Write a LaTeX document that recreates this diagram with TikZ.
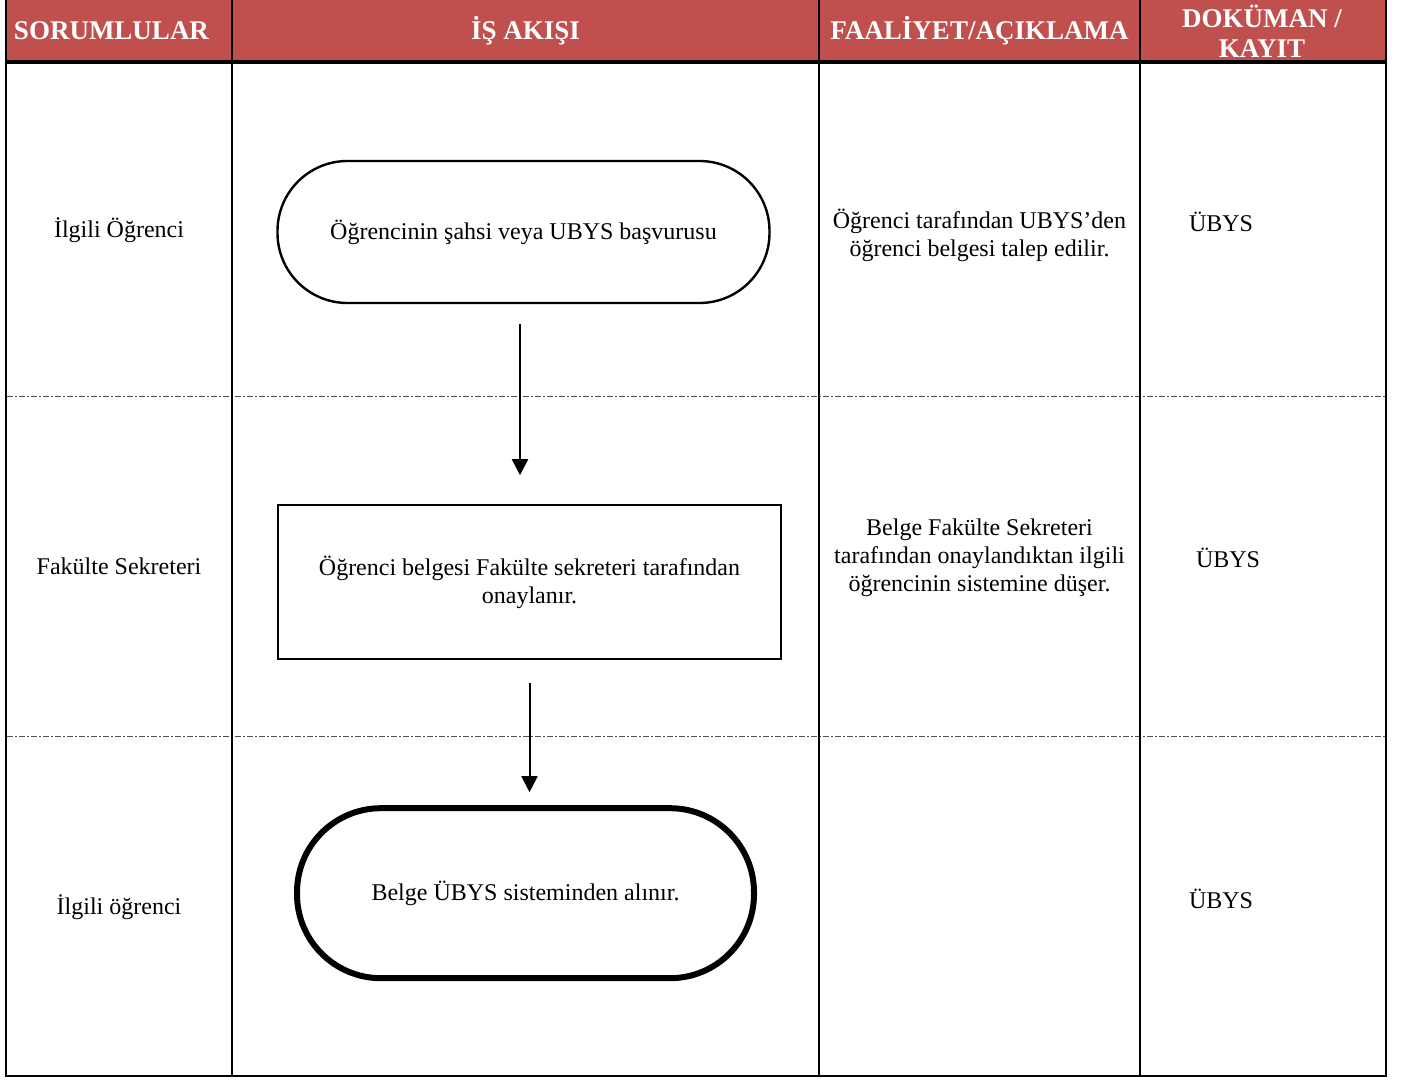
\documentclass[tikz,border=0pt]{standalone}
\usepackage{fontspec}
\setmainfont{Liberation Serif}
\usepackage{tikz}
\usetikzlibrary{arrows.meta, positioning}
\definecolor{headerred}{RGB}{192, 80, 77}
\definecolor{gridgray}{RGB}{80, 80, 80}
\tikzset{
    header/.style={
        text=white,
        font=\fontsize{13.5}{15}\selectfont\bfseries,
        align=center
    },
    cell/.style={
        font=\fontsize{12}{14}\selectfont,
        align=center
    },
    terminal/.style={
        rectangle,
        rounded corners=35pt,
        minimum width=246pt,
        minimum height=71pt,
        draw=black,
        line width=1.2pt,
        cell
    },
    process/.style={
        rectangle,
        minimum width=251.5pt,
        minimum height=77pt,
        draw=black,
        line width=1pt,
        cell
    },
    arrow/.style={
        line width=1pt,
        -{Triangle[width=8pt,length=8pt]}
    },
    rowline/.style={
        gridgray,
        line width=0.5pt,
        dash pattern=on 3pt off 1pt on 1pt off 1pt
    }
}

\begin{document}
\begin{tikzpicture}[x=0.5pt, y=-0.5pt]
        \useasboundingbox (0,0) rectangle (1404,1080);

        % --- TABLO ---
        \fill [headerred] (6,0) rectangle (1386,62);
        \draw [rowline] (7,397) -- (1385,397);
        \draw [rowline] (7,736) -- (1385,736);
        \draw [line width=1pt] (6,0) -- (6,1076) -- (1386,1076) -- (1386,0);
        \draw [line width=1pt] (232,0) -- (232,1076);
        \draw [line width=1pt] (819,0) -- (819,1076);
        \draw [line width=1pt] (1140,0) -- (1140,1076);
        \draw [line width=2pt] (6,62) -- (1386,62);

        % --- BAŞLIKLAR ---
        \node (h_sorumlu) [header] at (111.5,31) {SORUMLULAR};
        \node (h_akis) [header] at (525.5,31) {İŞ AKIŞI};
        \node (h_faaliyet) [header] at (979.5,31) {FAALİYET/AÇIKLAMA};
        \node (h_dokuman) [header] at (1262,31) {DOKÜMAN /\\KAYIT};

        % --- SORUMLULAR ---
        \node (s_ogrenci) [cell] at (119,230) {İlgili Öğrenci};
        \node (s_sekreter) [cell] at (119,566) {Fakülte Sekreteri};
        \node (s_ogrenci2) [cell] at (119,907) {İlgili öğrenci};

        % --- İŞ AKIŞI ---
        \node (basla) [terminal] at (523.5,232) {Öğrencinin şahsi veya UBYS başvurusu};
        \node (onay) [process, below=100pt of basla, xshift=3pt] {Öğrenci belgesi Fakülte sekreteri tarafından\\onaylanır.};
        \node (bitis) [terminal, below=72.5pt of onay, xshift=-2pt, minimum width=228.5pt, minimum height=85pt, rounded corners=42pt, line width=3pt] {Belge ÜBYS sisteminden alınır.};

        \draw [arrow, shorten <=10pt, shorten >=14.5pt] ([xshift=-1.75pt]basla.south) -- ([xshift=-1.75pt]basla.south |- onay.north);
        \draw [arrow, shorten <=11.5pt, shorten >=6.5pt] (onay.south) -- (onay.south |- bitis.north);

        % --- FAALİYET / AÇIKLAMA ---
        \node (f_talep) [cell] at (979.5,235) {Öğrenci tarafından UBYS’den\\öğrenci belgesi talep edilir.};
        \node (f_onay) [cell] at (979.5,558) {Belge Fakülte Sekreteri\\tarafından onaylandıktan ilgili\\öğrencinin sistemine düşer.};

        % --- DOKÜMAN / KAYIT ---
        \node (d_ubys1) [cell] at (1221,222) {ÜBYS};
        \node (d_ubys2) [cell] at (1228,558) {ÜBYS};
        \node (d_ubys3) [cell] at (1221,899) {ÜBYS};
    \end{tikzpicture}
\end{document}
